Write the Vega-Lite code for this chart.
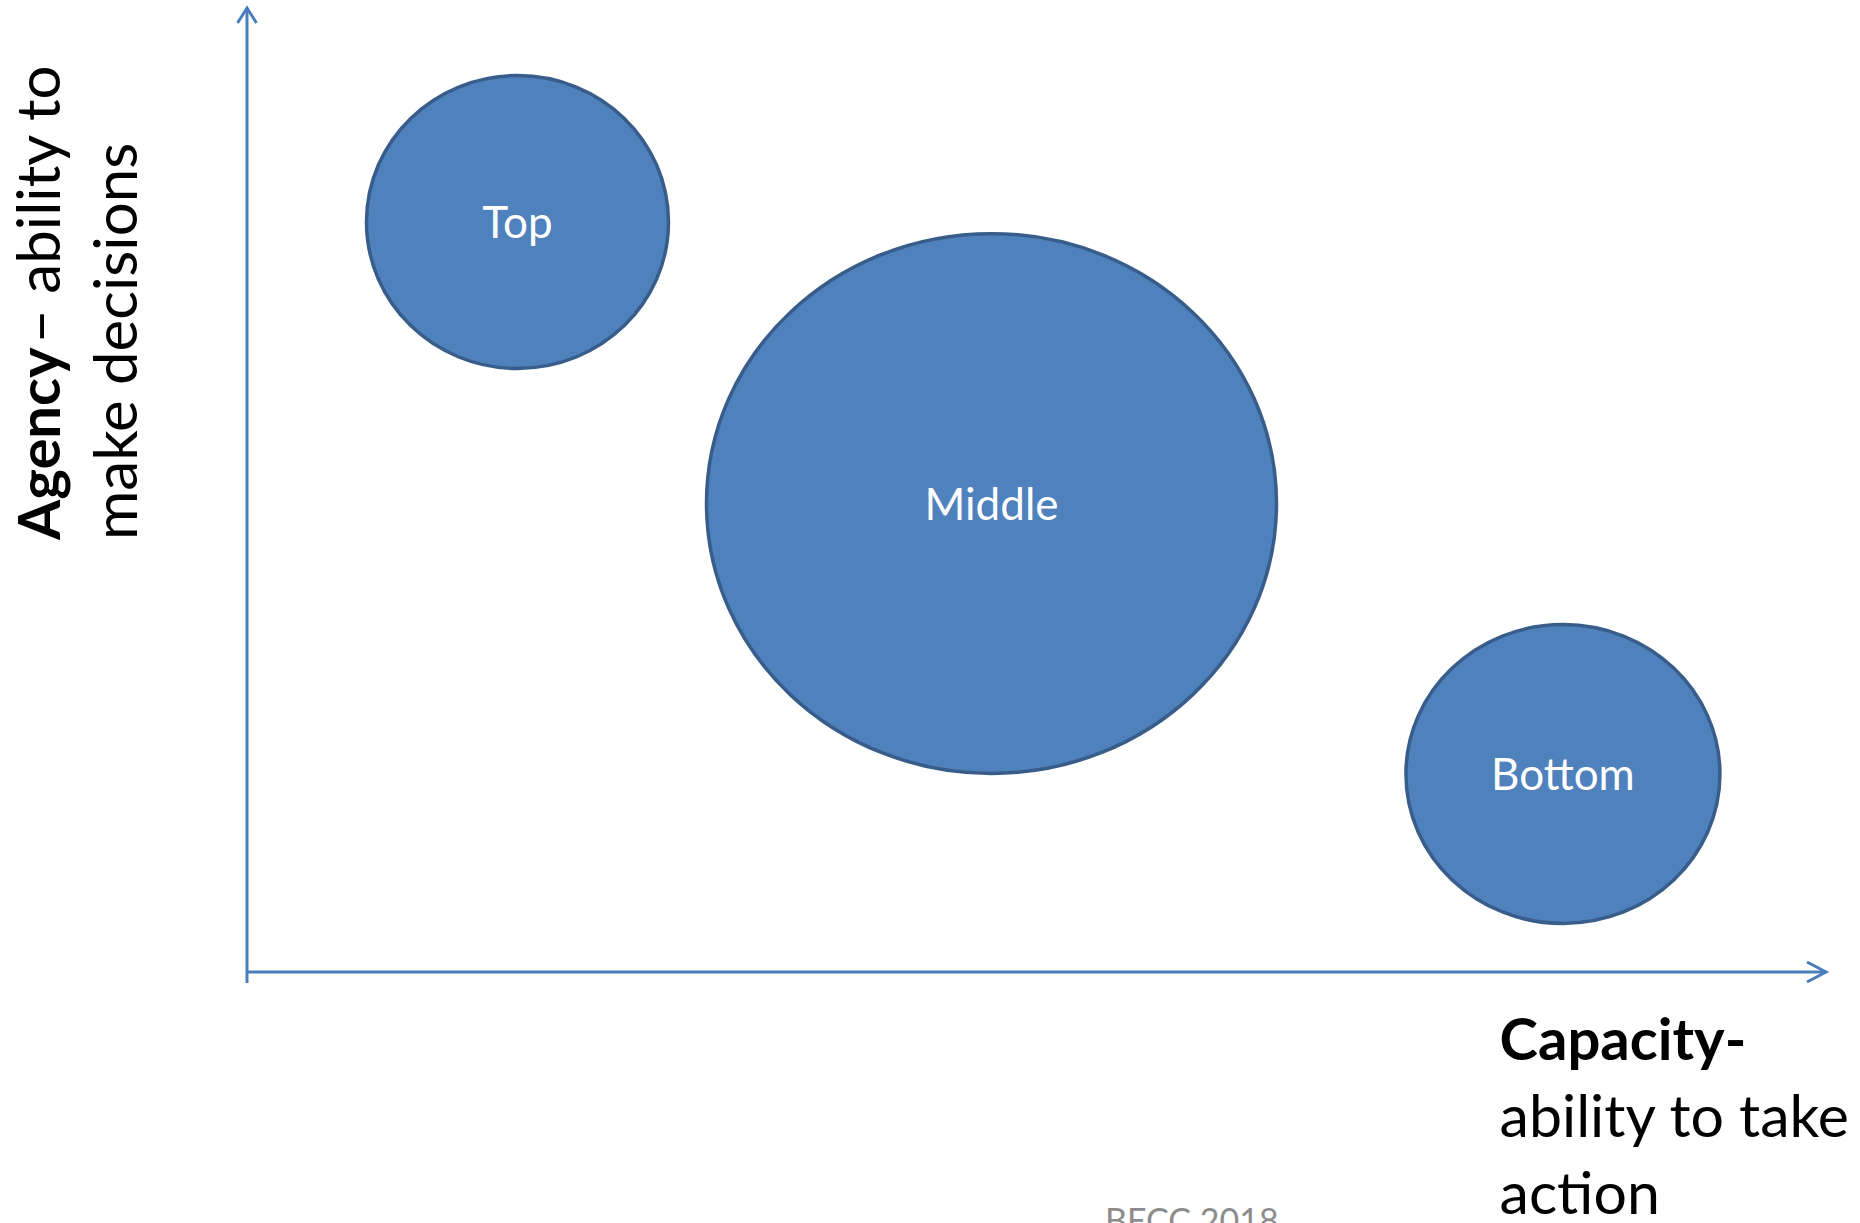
{
  "$schema": "https://vega.github.io/schema/vega-lite/v6.json",
  "width": 1579,
  "height": 965,
  "padding": {"left": 247, "top": 8, "right": 34, "bottom": 250},
  "autosize": {"type": "none"},
  "background": "white",
  "view": {"stroke": null},
  "config": {"font": "Lato"},
  "resolve": {"scale": {"shape": "independent", "size": "independent"}},
  "datasets": {
    "groups": [
      {"label": "Top", "capacity": 17.13, "agency": 77.82, "value": 9.12},
      {"label": "Middle", "capacity": 47.15, "agency": 48.65, "value": 32.49},
      {"label": "Bottom", "capacity": 83.34, "agency": 20.62, "value": 9.86}
    ]
  },
  "layer": [
    {
      "data": {"values": [
        {"axis": "y", "x": 0, "y": -1.04, "x2": 0, "y2": 100},
        {"axis": "x", "x": 0, "y": 0.1, "x2": 100, "y2": 0.1}
      ]},
      "mark": {"type": "rule", "color": "#4A7EBB", "strokeWidth": 3},
      "encoding": {
        "x": {"field": "x", "type": "quantitative", "scale": {"domain": [0, 100], "nice": false, "zero": false}, "axis": null},
        "y": {"field": "y", "type": "quantitative", "scale": {"domain": [0, 100], "nice": false, "zero": false}, "axis": null},
        "x2": {"field": "x2"},
        "y2": {"field": "y2"}
      }
    },
    {
      "data": {"values": [
        {"dir": "up", "x": 0, "y": 100},
        {"dir": "right", "x": 100, "y": 0.1}
      ]},
      "mark": {"type": "point", "filled": false, "color": "#4A7EBB", "strokeWidth": 3, "opacity": 1, "size": 900, "strokeJoin": "miter"},
      "encoding": {
        "x": {"field": "x", "type": "quantitative"},
        "y": {"field": "y", "type": "quantitative"},
        "shape": {"field": "dir", "type": "nominal", "legend": null,
          "scale": {"domain": ["up", "right"], "range": ["M -0.633 1 L 0 0 L 0.633 1", "M -1.267 -0.667 L 0 0 L -1.267 0.667"]}}
      }
    },
    {
      "data": {"name": "groups"},
      "mark": {"type": "point", "filled": true, "fill": "#4F81BD", "stroke": "#385D8A", "strokeWidth": 3.5, "opacity": 1},
      "encoding": {
        "x": {"field": "capacity", "type": "quantitative"},
        "y": {"field": "agency", "type": "quantitative"},
        "size": {"field": "value", "type": "quantitative", "legend": null, "scale": {"domain": [0, 100], "range": [0, 1000000]}},
        "shape": {"field": "label", "type": "nominal", "legend": null,
          "scale": {"domain": ["Top", "Middle", "Bottom"], "range": [
            "M 1 0 C 1 0.5358 0.5523 0.97 0 0.97 C -0.5523 0.97 -1 0.5358 -1 0 C -1 -0.5358 -0.5523 -0.97 0 -0.97 C 0.5523 -0.97 1 -0.5358 1 0 Z",
            "M 1 0 C 1 0.523 0.5523 0.947 0 0.947 C -0.5523 0.947 -1 0.523 -1 0 C -1 -0.523 -0.5523 -0.947 0 -0.947 C 0.5523 -0.947 1 -0.523 1 0 Z",
            "M 1 0 C 1 0.5258 0.5523 0.952 0 0.952 C -0.5523 0.952 -1 0.5258 -1 0 C -1 -0.5258 -0.5523 -0.952 0 -0.952 C 0.5523 -0.952 1 -0.5258 1 0 Z"
          ]}}
      }
    },
    {
      "data": {"name": "groups"},
      "mark": {"type": "text", "color": "white", "fontSize": 44, "align": "center", "baseline": "alphabetic", "dy": 16},
      "encoding": {
        "x": {"field": "capacity", "type": "quantitative"},
        "y": {"field": "agency", "type": "quantitative"},
        "text": {"field": "label"}
      }
    },
    {
      "data": {"values": [
        {"text": "Agency", "x": -11.84, "y": 44.87},
        {"text": "Capacity-", "x": 79.33, "y": -9.02}
      ]},
      "mark": {"type": "text", "color": "black", "fontSize": 58, "fontWeight": "bold", "align": "left", "baseline": "alphabetic"},
      "encoding": {
        "x": {"field": "x", "type": "quantitative"},
        "y": {"field": "y", "type": "quantitative"},
        "text": {"field": "text"},
        "angle": {"condition": {"test": "datum.text === 'Agency'", "value": 270}, "value": 0}
      }
    },
    {
      "data": {"values": [
        {"text": " – ability to", "x": -11.84, "y": 65.2},
        {"text": "make decisions", "x": -6.97, "y": 44.87}
      ]},
      "mark": {"type": "text", "color": "black", "fontSize": 60, "align": "left", "baseline": "alphabetic", "angle": 270},
      "encoding": {
        "x": {"field": "x", "type": "quantitative"},
        "y": {"field": "y", "type": "quantitative"},
        "text": {"field": "text"}
      }
    },
    {
      "data": {"values": [
        {"text": "ability to take", "x": 79.33, "y": -17.0},
        {"text": "action", "x": 79.33, "y": -24.97}
      ]},
      "mark": {"type": "text", "color": "black", "fontSize": 59, "align": "left", "baseline": "alphabetic"},
      "encoding": {
        "x": {"field": "x", "type": "quantitative"},
        "y": {"field": "y", "type": "quantitative"},
        "text": {"field": "text"}
      }
    },
    {
      "data": {"values": [
        {"text": "BECC 2018", "x": 54.34, "y": -26.94}
      ]},
      "mark": {"type": "text", "color": "#8C8C8C", "fontSize": 34, "align": "left", "baseline": "alphabetic"},
      "encoding": {
        "x": {"field": "x", "type": "quantitative"},
        "y": {"field": "y", "type": "quantitative"},
        "text": {"field": "text"}
      }
    }
  ]
}
